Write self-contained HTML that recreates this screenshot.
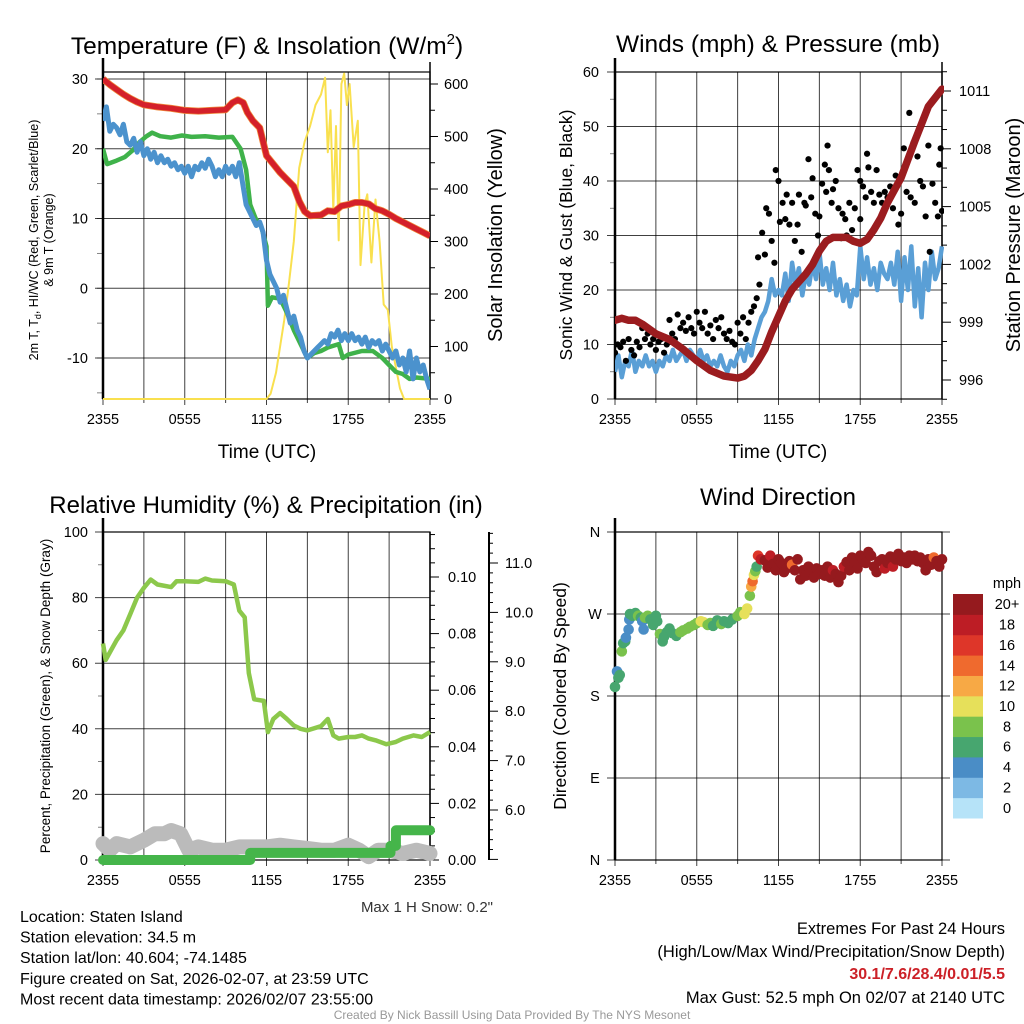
<!DOCTYPE html>
<html><head><meta charset="utf-8"><style>
html,body{margin:0;padding:0;background:#fff;}
svg{display:block;font-family:"Liberation Sans",sans-serif;}
</style></head><body>
<svg id="root" width="1024" height="1024" viewBox="0 0 1024 1024" xmlns="http://www.w3.org/2000/svg"></svg>
<script>
// ---------- DATA ----------
const timeTickLabels = ["2355","0555","1155","1755","2355"];
// Panel 1 (temperature, F) [hour, value]
const tempRed = [[0,30],[0.5,29.2],[1,28.5],[1.5,27.8],[2,27.2],[2.5,26.7],[3,26.3],[4,26],[5,25.8],[6,25.5],[7,25.4],[8,25.5],[9,25.6],[9.5,26.6],[9.9,27],[10.3,26.6],[10.6,25.2],[11,24],[11.5,23],[12,19],[12.5,17.8],[13,16.6],[13.5,15.6],[14,14.6],[14.4,12.5],[14.8,11],[15.2,10.4],[16,10.5],[16.5,11.1],[17,11],[17.5,11.8],[18,12],[18.5,12.3],[19,12.3],[19.5,12.1],[20,11.4],[20.5,11.1],[21,10.6],[21.5,10],[22,9.5],[22.5,9],[23,8.5],[23.5,8],[24,7.5]];
const dewGreen = [[0,20],[0.3,17.8],[1,18.3],[1.6,18.8],[2.2,19.8],[2.7,21],[3.2,21.8],[3.6,22.3],[4.2,21.8],[5,21.6],[5.8,21.9],[6.5,21.7],[7.5,21.8],[8.5,21.6],[9.5,21.7],[10.1,20],[10.5,17],[10.8,12],[11.2,10],[11.6,9],[12,6],[12.1,-2.5],[12.4,-1.3],[13,-1.5],[13.5,-3.5],[14,-6],[14.5,-8],[15,-10],[15.5,-9.3],[16,-9],[16.5,-8.5],[17.3,-8],[17.6,-10],[18,-9.5],[19,-9],[19.8,-9],[20.5,-10],[21,-11],[21.5,-12],[22,-12.3],[22.5,-13],[23,-12.8],[24,-13]];
const chillBlue = [24,26,22.5,23.5,23,22,23.5,21,20.5, 21.5,19.5,21,19,20,18.5,19.5,18, 19,18,18.5,17.5,18,17,17.5,16.5, 17.5,16,17.5,17,18,17.2,18.5,17.5, 16,17,16,17.5,16.5,17.5,16,18, 15,12,11,10,9,9.5,8,4, 2,1,0,-2,-1,-3,-5,-4, -6,-7,-9,-10,-9.5,-9,-8.5,-8, -7.5,-8,-6.5,-7,-6,-7.5,-6.5,-7.5, -6.5,-7.5,-7,-8,-7,-8.5,-7.5,-8, -7.5,-9,-8,-9,-10,-9,-11,-10, -12,-9,-13,-10,-12,-11,-13,-14.5];
const solarYellow = [[0,0],[12,0],[12.3,10],[12.7,50],[13,100],[13.3,150],[13.6,210],[14,300],[14.4,440],[14.8,490],[15.2,520],[15.6,560],[16,580],[16.3,612],[16.5,470],[16.7,550],[16.9,360],[17.1,520],[17.3,302],[17.5,600],[17.7,620],[17.9,560],[18.1,600],[18.4,480],[18.7,530],[18.9,255],[19.2,370],[19.4,390],[19.7,260],[20,380],[20.3,300],[20.6,180],[20.9,170],[21.2,100],[21.5,60],[21.8,20],[22.1,0],[24,0]];
const tempTicks = [30,20,10,0,-10];
const solarTicks = [0,100,200,300,400,500,600];
// Panel 2 (winds mph, pressure mb)
const windBlue = [5,8,4,7,6,9,5,7,6, 8,6,7,5,7,6,8,7, 9,7,8,9,7,9,8,7, 9,7,8,6,7,6,8,6, 5,7,6,8,9,7,10,8, 11,13,15,16,18,22,19,20, 19,23,18,25,21,24,19,23, 21,25,22,27,21,24,20,25, 19,22,18,21,17,20,19,28, 22,26,21,24,20,25,23,22, 25,21,27,18,26,20,28,17, 24,15,25,20,27,22,24,28];
const gustBlack = [[0,8.5],[0.2,10],[0.4,9.5],[0.6,10.5],[0.8,7],[1,11],[1.2,9],[1.4,8],[1.6,10.5],[1.8,9.5],[2,13],[2.2,11],[2.4,12],[2.6,10],[2.8,11],[3,9],[3.2,10.5],[3.4,11],[3.6,8.5],[3.8,10],[4,14.5],[4.2,12],[4.4,11],[4.6,15.5],[4.8,13],[5,14],[5.2,12.5],[5.4,15],[5.6,13],[5.8,12],[6,16],[6.2,14],[6.4,13],[6.6,16],[6.8,12],[7,13.5],[7.2,11],[7.4,14.5],[7.6,13],[7.8,15],[8,12],[8.2,11],[8.4,12.5],[8.6,10.5],[8.8,10],[9,14],[9.2,12],[9.4,15],[9.6,11],[9.8,14],[10,16],[10.2,17],[10.4,18.5],[10.5,26],[10.6,21],[10.8,30.5],[11,26.5],[11.1,35],[11.3,34],[11.5,29],[11.7,25],[11.8,42],[12,40],[12.1,32.5],[12.3,36],[12.5,33],[12.6,37.5],[12.8,32],[13,36],[13.2,29],[13.4,32],[13.5,37.5],[13.7,27],[13.9,36],[14,35.5],[14.2,44],[14.4,37],[14.5,40.5],[14.7,34],[14.9,30],[15,33.5],[15.2,39.5],[15.4,43],[15.5,38],[15.6,46.5],[15.7,42],[15.9,36],[16,38.5],[16.2,40],[16.4,35],[16.6,29.5],[16.7,34],[16.9,33],[17,30],[17.2,36],[17.4,31],[17.6,35],[17.8,42],[18,40],[18,33],[18.2,39],[18.4,37],[18.5,45],[18.6,42.5],[18.8,38],[19,36],[19.2,42],[19.4,37.5],[19.6,36],[19.8,38],[20,37],[20.2,39],[20.4,35],[20.6,41],[20.8,32],[21,34],[21.2,46],[21.4,38],[21.6,52.5],[21.7,37],[21.9,47],[22,36],[22.2,44.5],[22.4,40],[22.6,39],[22.8,33.5],[23,46.5],[23.1,27],[23.3,39.5],[23.5,36],[23.7,33.5],[23.8,43],[23.9,46],[24,34.5]];
const pressureMaroon = [[0,999.1],[0.5,999.2],[1,999.1],[1.5,999.1],[2,998.9],[3,998.4],[4,998.1],[5,997.6],[6,997.0],[7,996.5],[8,996.2],[9,996.1],[9.5,996.2],[10,996.5],[10.5,997.0],[11,997.6],[11.5,998.5],[12,999.3],[12.5,1000.1],[13,1000.7],[14,1001.5],[14.5,1002],[15,1002.7],[15.5,1003.2],[16,1003.4],[17,1003.4],[17.5,1003.2],[18,1003.1],[18.5,1003.3],[19,1003.8],[19.5,1004.4],[20,1005.2],[21,1006.5],[22,1008.4],[23,1010.2],[24,1011.1]];
const windTicks = [0,10,20,30,40,50,60];
const pressTicks = [996,999,1002,1005,1008,1011];
// Panel 3 (RH %, precip in, snow)
const rhGreen = [[0,66],[0.2,61],[1,67],[1.5,70],[2,75],[2.5,80],[3,83],[3.5,85.5],[4,84],[5,83.2],[5.4,85],[6,85],[7,84.8],[7.5,85.8],[8,85.2],[9,85],[9.6,84],[10,76],[10.4,74],[10.7,57],[11.1,49],[11.8,48.5],[12.1,39],[12.5,43],[13,44.8],[13.5,43],[14,41],[14.5,40],[15,39.5],[16,40.8],[16.5,43],[16.9,38],[17.3,37],[18,37.5],[18.5,37.5],[19,38],[19.5,37],[20,36.5],[20.8,35.3],[21.5,36],[22,37],[22.8,38],[23.4,37.5],[24,39]];
const snowGray = [[0,5],[0.5,3],[1,5],[2,4],[3,6],[3.8,8],[4.5,8],[5,9],[5.7,8],[6.3,3],[7,4],[8,3],[9,3],[10,4],[11,4],[12,4],[13,4.5],[14,4],[15,3.5],[16,3],[17,3],[18,4.5],[18.8,3],[19.5,1],[20.2,3],[21,3],[22,2],[23,3],[24,2]];
const precipSteps = [[0,0],[10.8,0],[10.8,0.0025],[21.1,0.0025],[21.1,0.005],[21.5,0.005],[21.5,0.0105],[24,0.0105]];
const rhTicks = [0,20,40,60,80,100];
const precipTicks = ["0.00","0.02","0.04","0.06","0.08","0.10"];
const snowTicks = ["6.0","7.0","8.0","9.0","10.0","11.0"];
// Panel 4 (direction deg, speed mph) [hour, deg, speed]
const dirDots = [[0,190,6],[0.15,207,4],[0.25,200,6],[0.35,203,6],[0.5,229,8],[0.6,238,6],[0.75,240,6],[0.8,244,4],[1,253,4],[1.05,264,4],[1.1,270,6],[1.3,268,6],[1.5,271,6],[1.7,268,8],[1.9,266,6],[2,262,4],[2.1,253,4],[2.2,266,8],[2.4,268,8],[2.6,264,6],[2.8,258,6],[3,268,6],[3.1,262,6],[3.3,248,8],[3.5,240,6],[3.6,245,6],[3.8,250,6],[4,254,6],[4.2,249,6],[4.5,246,6],[4.8,250,8],[5,252,8],[5.3,254,8],[5.5,256,8],[5.8,258,8],[6,260,8],[6.3,262,10],[6.5,261,10],[6.8,258,8],[7,260,8],[7.2,257,6],[7.5,263,6],[7.8,259,8],[8,262,6],[8.3,260,6],[8.6,264,6],[9,268,8],[9.2,272,8],[9.5,270,10],[9.7,276,10],[9.9,290,8],[10,300,12],[10.1,306,14],[10.2,313,10],[10.3,317,8],[10.4,322,6],[10.5,334,16],[10.7,330,18],[11,329,20],[11.2,321,20],[11.4,334,18],[11.6,325,20],[11.8,318,20],[12,330,20],[12.2,326,20],[12.4,316,20],[12.6,320,20],[12.8,328,20],[13,324,14],[13.2,318,20],[13.4,330,20],[13.6,308,20],[13.8,318,20],[14,312,20],[14.2,322,20],[14.4,316,20],[14.6,310,20],[14.8,320,20],[15,314,20],[15.2,318,20],[15.4,312,20],[15.6,322,20],[15.8,310,20],[16,318,18],[16.2,314,20],[16.4,305,20],[16.6,312,20],[16.8,322,18],[17,327,20],[17.2,318,20],[17.4,332,20],[17.6,326,20],[17.8,320,20],[18,334,20],[18.2,330,20],[18.4,326,20],[18.6,338,20],[18.8,334,20],[19,322,20],[19.2,316,20],[19.4,328,20],[19.6,330,20],[19.8,320,18],[20,326,20],[20.2,333,20],[20.4,322,18],[20.6,330,20],[20.8,336,20],[21,328,20],[21.2,332,20],[21.4,326,20],[21.6,334,20],[21.8,330,20],[22,334,20],[22.2,328,20],[22.4,332,20],[22.6,326,20],[22.8,318,20],[23,330,20],[23.2,324,20],[23.4,332,14],[23.6,328,20],[23.8,322,20],[24,330,20]];
const dirTicks = ["N","E","S","W","N"];
const speedLevels = ["0","2","4","6","8","10","12","14","16","18","20+"];
const speedColors = ["#b6e3f8","#7db9e4","#4a8dc6","#47a66f","#7ac24c","#e6e05a","#f7a945","#ef6a2e","#de3629","#bd1d25","#951a1e"];

// ---------- HELPERS ----------
const NS="http://www.w3.org/2000/svg";
const root=document.getElementById('root');
function mk(tag,attrs,parent){const e=document.createElementNS(NS,tag);for(const k in attrs)e.setAttribute(k,attrs[k]);(parent||root).appendChild(e);return e;}
function txt(s,x,y,size,anchor,parent,extra){const e=mk('text',Object.assign({x:x,y:y,'font-size':size,'text-anchor':anchor||'middle',fill:'#000'},extra||{}),parent);e.textContent=s;return e;}
function lin(d0,d1,r0,r1){return v=>r0+(v-d0)*(r1-r0)/(d1-d0);}
function pathFrom(pts,sx,sy){return pts.map((p,i)=>(i?'L':'M')+sx(p[0]).toFixed(1)+','+sy(p[1]).toFixed(1)).join('');}

function panelFrame(g,L,R,T,B,sx,hLines,sy,opts){
  for(let h=0;h<=24;h+=3){
    const l=mk('line',{x1:sx(h),x2:sx(h),y1:T,y2:B+(h%6===0?6:4),stroke:'#000','stroke-width':1,'stroke-opacity':0.75},g);
    
    
  }
  hLines.forEach(v=>{
    const l=mk('line',{x1:L-8,x2:R+(opts&&opts.extR||0),y1:sy(v),y2:sy(v),stroke:'#000','stroke-width':1,'stroke-opacity':0.75},g);
    
    
  });
  const fr=mk('rect',{x:L,y:T,width:R-L,height:B-T,fill:'none',stroke:'#000','stroke-width':1.2},g);
  
  
  const la=mk('line',{x1:L,x2:L,y1:T-14,y2:B,stroke:'#000','stroke-width':2.5},g);
  
  
  timeTickLabels.forEach((s,i)=>{
    const t=txt(s,sx(i*6),B+25,14.5,'middle',g);
    
    
  });
}

// ---------- PANEL 1 ----------
(function(){
  const L=103,R=430,T=72,B=399;
  const g=mk('g',{});
  
  
  const sx=lin(0,24,L,R), sy=lin(-10,30,358,79), sy2=lin(0,600,399,84);
  panelFrame(g,L,R,T,B,sx,tempTicks,sy);
  for(let v=-15;v<=30;v+=5){const t=mk('line',{x1:L-6,x2:L,y1:sy(v),y2:sy(v),stroke:'#000','stroke-width':0.8,'stroke-opacity':0.6},g);}
  for(let v=0;v<=620;v+=50){const t=mk('line',{x1:R,x2:R+(v%100===0?8:5),y1:sy2(v),y2:sy2(v),stroke:'#000','stroke-width':1},g);}
  tempTicks.forEach(v=>{const t=txt(String(v),L-15,sy(v)+5,14.5,'end',g);});
  solarTicks.forEach(v=>{const t=txt(String(v),R+14,sy2(v)+5,14.5,'start',g);});
  const ra=mk('line',{x1:R,x2:R,y1:T-10,y2:B,stroke:'#000','stroke-width':1.5},g);
  
  
  const cp=mk('clipPath',{id:'c1'},g);mk('rect',{x:L,y:T,width:R-L,height:B-T+2},cp);
  const pg=mk('g',{'clip-path':'url(#c1)'},g);
  let p=mk('path',{d:pathFrom(solarYellow,sx,sy2),fill:'none',stroke:'#f9e04f','stroke-width':2,'stroke-linejoin':'round'},pg);
  
  p=mk('path',{d:pathFrom(tempRed,sx,sy),fill:'none',stroke:'#f08a3a','stroke-width':7,'stroke-linejoin':'round'},pg);
  
  p=mk('path',{d:pathFrom(tempRed,sx,sy),fill:'none',stroke:'#d4202a','stroke-width':5.5,'stroke-linejoin':'round'},pg);
  
  p=mk('path',{d:pathFrom(dewGreen,sx,sy),fill:'none',stroke:'#3fb24a','stroke-width':4.5,'stroke-linejoin':'round'},pg);
  
  p=mk('path',{d:pathFrom(chillBlue.map((v,i)=>[i*0.25,v]),sx,sy),fill:'none',stroke:'#4b92cd','stroke-width':5,'stroke-linejoin':'round'},pg);
  
  const ti=mk('text',{x:267,y:54,'font-size':24.5,'text-anchor':'middle'},g);
  ti.innerHTML='Temperature (F) &amp; Insolation (W/m<tspan font-size="15" dy="-10">2</tspan><tspan dy="10">)</tspan>';
  
  let t=txt('Time (UTC)',267,458,19,'middle',g);
  t=mk('text',{transform:'translate(38,240) rotate(-90)','font-size':12.5,'text-anchor':'middle'},g);
  t.innerHTML='2m T, T<tspan font-size="9" dy="3">d</tspan><tspan dy="-3">, HI/WC (Red, Green, Scarlet/Blue)</tspan>';
  
  t=mk('text',{transform:'translate(53,240) rotate(-90)','font-size':12.5,'text-anchor':'middle'},g);t.textContent='& 9m T (Orange)';
  
  t=mk('text',{transform:'translate(502,235) rotate(-90)','font-size':20,'text-anchor':'middle'},g);t.textContent='Solar Insolation (Yellow)';
  
})();

// ---------- PANEL 2 ----------
(function(){
  const L=615,R=942,T=72,B=399;
  const g=mk('g',{});
  
  
  const sx=lin(0,24,L,R), sy=lin(0,60,399,72), sy2=lin(996,1011,380,91);
  panelFrame(g,L,R,T,B,sx,windTicks,sy);
  for(let v=5;v<60;v+=10){const t=mk('line',{x1:L-5,x2:L,y1:sy(v),y2:sy(v),stroke:'#000','stroke-width':0.8,'stroke-opacity':0.6},g);}
  for(let v=995;v<=1012;v+=1){const t=mk('line',{x1:R,x2:R+((v-996)%3===0?9:5),y1:sy2(v),y2:sy2(v),stroke:'#000','stroke-width':1},g);}
  windTicks.forEach(v=>{const t=txt(String(v),L-16,sy(v)+5,14.5,'end',g);});
  pressTicks.forEach(v=>{const t=txt(String(v),R+17,sy2(v)+5,14.5,'start',g);});
  const ra=mk('line',{x1:R,x2:R,y1:T-10,y2:B,stroke:'#000','stroke-width':1.5},g);
  
  const cp=mk('clipPath',{id:'c2'},g);mk('rect',{x:L,y:T,width:R-L+2,height:B-T},cp);
  const pg=mk('g',{'clip-path':'url(#c2)'},g);
  let p=mk('path',{d:pathFrom(windBlue.map((v,i)=>[i*0.25,v]),sx,sy),fill:'none',stroke:'#5a9fd6','stroke-width':4.5,'stroke-linejoin':'round'},pg);
  
  gustBlack.forEach(d=>{const c=mk('circle',{cx:sx(d[0]),cy:sy(d[1]),r:3.1,fill:'#000'},pg);});
  p=mk('path',{d:pathFrom(pressureMaroon,sx,sy2),fill:'none',stroke:'#9b1c1f','stroke-width':7.5,'stroke-linejoin':'round','stroke-linecap':'round'},pg);
  
  let t=txt('Winds (mph) & Pressure (mb)',778,52,24.5,'middle',g);
  t=txt('Time (UTC)',778,458,19,'middle',g);
  t=mk('text',{transform:'translate(572,235) rotate(-90)','font-size':17.5,'text-anchor':'middle'},g);t.textContent='Sonic Wind & Gust (Blue, Black)';
  
  t=mk('text',{transform:'translate(1020,235) rotate(-90)','font-size':20,'text-anchor':'middle'},g);t.textContent='Station Pressure (Maroon)';
  
})();

// ---------- PANEL 3 ----------
(function(){
  const L=103,R=430,T=532,B=860;
  const g=mk('g',{});
  
  
  const sx=lin(0,24,L,R), sy=lin(0,100,860,532), sy2=lin(0,0.1,860,577), sy3=lin(6,11,810,563);
  panelFrame(g,L,R,T,B,sx,rhTicks,sy);
  for(let v=10;v<100;v+=20){const t=mk('line',{x1:L-5,x2:L,y1:sy(v),y2:sy(v),stroke:'#000','stroke-width':0.8,'stroke-opacity':0.6},g);}
  for(let i=0;i<=23;i++){const v=i*0.005;const t=mk('line',{x1:R,x2:R+(i%4===0?9:5),y1:sy2(v),y2:sy2(v),stroke:'#000','stroke-width':1},g);}
  const sa=mk('line',{x1:489,x2:489,y1:532,y2:860,stroke:'#000','stroke-width':2},g);
  
  for(let i=0;i<=33;i++){const v=5+i*0.2;const t=mk('line',{x1:489,x2:489+(i%5===0?9:4),y1:sy3(v),y2:sy3(v),stroke:'#000','stroke-width':1},g);}
  rhTicks.forEach(v=>{const t=txt(String(v),L-15,sy(v)+5,14.5,'end',g);});
  precipTicks.forEach(s=>{const t=txt(s,R+18,sy2(parseFloat(s))+5,14.5,'start',g);});
  snowTicks.forEach(s=>{const t=txt(s,505,sy3(parseFloat(s))+5,14.5,'start',g);});
  const ra=mk('line',{x1:R,x2:R,y1:T,y2:B,stroke:'#000','stroke-width':1.5},g);
  
  let p=mk('path',{d:pathFrom(snowGray,sx,sy),fill:'none',stroke:'#bbbbbb','stroke-width':15,'stroke-linejoin':'round','stroke-linecap':'round'},g);
  
  p=mk('path',{d:pathFrom(precipSteps,sx,sy2),fill:'none',stroke:'#45b54a','stroke-width':10,'stroke-linejoin':'round','stroke-linecap':'round'},g);
  
  p=mk('path',{d:pathFrom(rhGreen,sx,sy),fill:'none',stroke:'#8cc84b','stroke-width':4.5,'stroke-linejoin':'round'},g);
  
  let t=txt('Relative Humidity (%) & Precipitation (in)',266,513,24,'middle',g);
  t=mk('text',{transform:'translate(50,696) rotate(-90)','font-size':13.5,'text-anchor':'middle'},g);t.textContent='Percent, Precipitation (Green), & Snow Depth (Gray)';
  
  t=txt('Max 1 H Snow: 0.2"',493,912,15,'end',g,{fill:'#333'});
})();

// ---------- PANEL 4 ----------
(function(){
  const L=615,R=942,T=532,B=860;
  const g=mk('g',{});
  
  
  const sx=lin(0,24,L,R), sy=lin(0,360,860,532);
  panelFrame(g,L,R,T,B,sx,[0,90,180,270,360],sy,{extR:8});
  dirTicks.forEach((s,i)=>{const t=txt(s,L-20,sy(i*90)+5,14.5,'middle',g);});
  dirDots.forEach(d=>{
    const idx=Math.min(10,Math.floor(d[2]/2));
    const c=mk('circle',{cx:sx(d[0]),cy:sy(d[1]),r:5.3,fill:speedColors[idx]},g);
    
    
  });
  let t=txt('Wind Direction',778,505,24,'middle',g);
  t=mk('text',{transform:'translate(566,696) rotate(-90)','font-size':17.5,'text-anchor':'middle'},g);t.textContent='Direction (Colored By Speed)';
  
  const lg=mk('g',{},g);
  
  
  t=txt('mph',1007,588,14.5,'middle',lg);
  const bh=(818-594)/11;
  speedLevels.forEach((s,i)=>{
    const y=818-(i+1)*bh;
    const r=mk('rect',{x:953,y:y,width:30,height:bh+0.5,fill:speedColors[i]},lg);
    
    
    const tt=txt(s,1007,y+bh/2+5,14.5,'middle',lg);
    
    
  });
})();

// ---------- FOOTER TEXT ----------
const infoLines=["Location: Staten Island","Station elevation: 34.5 m","Station lat/lon: 40.604; -74.1485","Figure created on Sat, 2026-02-07, at 23:59 UTC","Most recent data timestamp: 2026/02/07 23:55:00"];
infoLines.forEach((s,i)=>{const t=txt(s,20,922+i*20.6,16,'start');});
let ft=txt('Extremes For Past 24 Hours',1005,934,16.5,'end');
ft=txt('(High/Low/Max Wind/Precipitation/Snow Depth)',1005,957,16.5,'end');
ft=txt('30.1/7.6/28.4/0.01/5.5',1005,979,16,'end',null,{fill:'#cc2027','font-weight':'bold'});
ft=txt('Max Gust: 52.5 mph On 02/07 at 2140 UTC',1005,1003,16.5,'end');
ft=txt('Created By Nick Bassill Using Data Provided By The NYS Mesonet',512,1019,12,'middle',null,{fill:'#999'});
</script>
</body></html>
